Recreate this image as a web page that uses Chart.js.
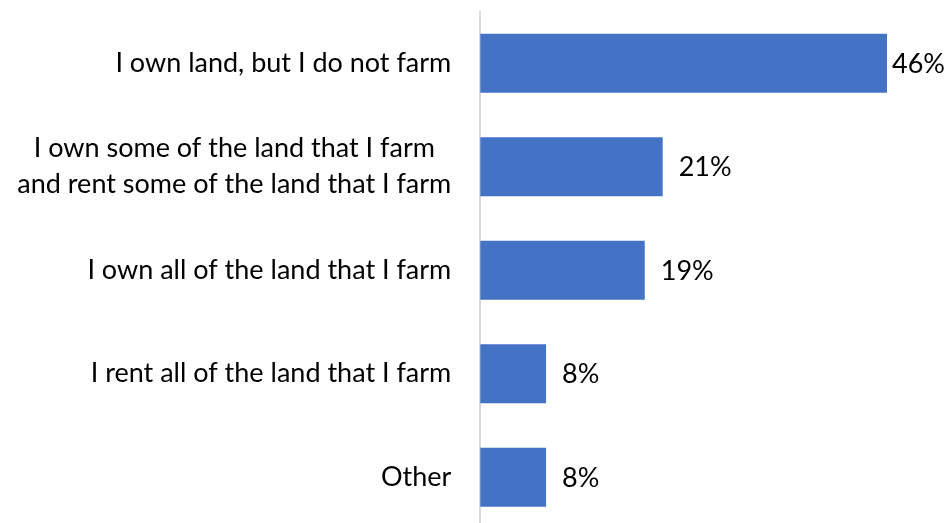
<!DOCTYPE html>
<html>
<head>
<meta charset="utf-8">
<script src="https://cdn.jsdelivr.net/npm/chart.js@4"></script>
<style>
  html, body { margin: 0; padding: 0; background: #fff; }
  #wrap { width: 948px; height: 523px; overflow: hidden; position: relative; }
  #box { width: 948px; height: 529px; position: absolute; left: 0; top: 0; }
</style>
</head>
<body>
<div id="wrap"><div id="box"><canvas id="land_chart"></canvas></div></div>
<script>
const categories = [
  'I own land, but I do not farm',
  ['I own some of the land that I farm', 'and rent some of the land that I farm'],
  'I own all of the land that I farm',
  'I rent all of the land that I farm',
  'Other'
];
const shares = [46, 21, 19, 8, 8];

const FONT = 'Lato, "Open Sans", sans-serif';
const FONT_SIZE = 27;

// value labels at the end of each bar
const valueLabels = {
  id: 'valueLabels',
  afterDatasetsDraw(chart) {
    const ctx = chart.ctx;
    const meta = chart.getDatasetMeta(0);
    ctx.save();
    ctx.font = FONT_SIZE + 'px ' + FONT;
    ctx.fillStyle = '#000';
    ctx.textBaseline = 'middle';
    ctx.textAlign = 'left';
    meta.data.forEach((bar, i) => {
      const text = shares[i] + '%';
      const w = ctx.measureText(text).width;
      let x = bar.x + 16;
      if (x + w > chart.width - 3) x = chart.width - 3 - w;
      ctx.fillText(text, x, bar.y + 1);
    });
    ctx.restore();
  }
};

// multi-line category labels: lines centred on each other, block kept right-aligned
const centerMultiline = {
  id: 'centerMultiline',
  beforeDraw(chart) {
    const scale = chart.scales.y;
    const items = scale.getLabelItems(chart.chartArea);
    const ctx = chart.ctx;
    ctx.save();
    items.forEach(item => {
      if (!Array.isArray(item.label) || item.options.textAlign === 'center') return;
      ctx.font = item.font.string;
      const widest = Math.max(...item.label.map(l => ctx.measureText(l).width));
      item.options.textAlign = 'center';
      item.options.translation[0] -= widest / 2;
    });
    ctx.restore();
  }
};

new Chart(document.getElementById('land_chart'), {
  type: 'bar',
  data: {
    labels: categories,
    datasets: [{
      data: shares,
      backgroundColor: '#4472C4',
      barPercentage: 0.57,
      categoryPercentage: 1
    }]
  },
  options: {
    indexAxis: 'y',
    responsive: true,
    maintainAspectRatio: false,
    animation: false,
    layout: { padding: { top: 11.5, right: 0, bottom: 0, left: 0 } },
    plugins: { legend: { display: false }, tooltip: { enabled: false } },
    scales: {
      x: { display: false, min: 0.67, max: 52.8 },
      y: {
        afterFit(scale) {
          scale.width = 480.3;
          scale.paddingTop = 0;
          scale.paddingBottom = 0;
        },
        grid: { display: false, drawTicks: false },
        border: { display: true, color: '#d9d9d9', width: 2 },
        ticks: {
          padding: 29,
          color: '#000',
          font: { family: FONT, size: FONT_SIZE, lineHeight: 1.333 }
        }
      }
    }
  },
  plugins: [valueLabels, centerMultiline]
});
</script>
</body>
</html>
